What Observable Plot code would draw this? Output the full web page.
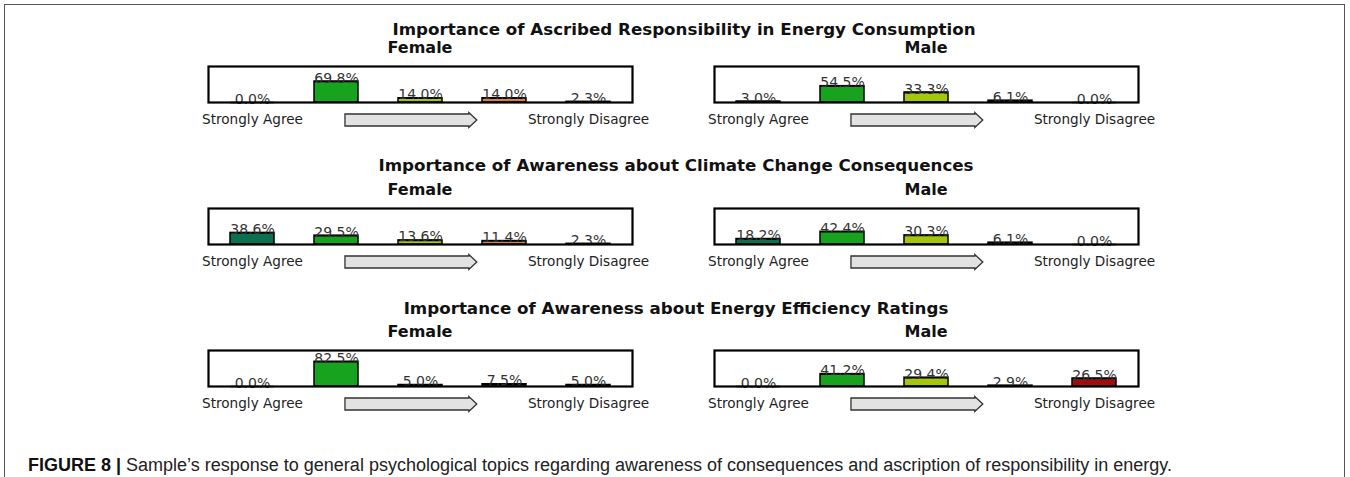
<!DOCTYPE html>
<html>
<head>
<meta charset="utf-8">
<script src="https://cdn.jsdelivr.net/npm/d3@7"></script>
<script src="https://cdn.jsdelivr.net/npm/@observablehq/plot@0.6"></script>
<style>
  html, body { margin: 0; padding: 0; background: #fff; }
  #fig { position: relative; width: 1350px; height: 477px; overflow: hidden; background: #fff; }
  #frame { position: absolute; left: 4px; top: 4px; width: 1339px; height: 500px;
           border-top: 1.5px solid #555; border-left: 1.5px solid #555; border-right: 1.5px solid #555; }
  .ttl { position: absolute; font-family: "DejaVu Sans", sans-serif; font-weight: bold; font-size: 16px;
         color: #111; white-space: nowrap; transform: translateX(-50%); line-height: 1; }
  .ttl.main { font-size: 16.7px; }
  .panel { position: absolute; }
  #caption { position: absolute; left: 28px; top: 455px; font-family: "Liberation Sans", Arial, sans-serif;
             font-size: 18px; color: #222; white-space: nowrap; }
  #caption b { color: #111; }
</style>
</head>
<body>
<div id="fig">
  <div id="frame"></div>
  <div id="caption"><b>FIGURE 8 |</b> Sample’s response to general psychological topics regarding awareness of consequences and ascription of responsibility in energy.</div>
</div>
<script>
// ---- data ----
const likert = [0, 1, 2, 3, 4];
const tickLabels = ["Strongly Agree", "", "", "", "Strongly Disagree"];
const topics = [
  "Importance of Ascribed Responsibility in Energy Consumption",
  "Importance of Awareness about Climate Change Consequences",
  "Importance of Awareness about Energy Efficiency Ratings"
];
const groups = ["Female", "Male"];
const femaleValues = [
  [0.0, 69.8, 14.0, 14.0, 2.3],
  [38.6, 29.5, 13.6, 11.4, 2.3],
  [0.0, 82.5, 5.0, 7.5, 5.0]
];
const maleValues = [
  [3.0, 54.5, 33.3, 6.1, 0.0],
  [18.2, 42.4, 30.3, 6.1, 0.0],
  [0.0, 41.2, 29.4, 2.9, 26.5]
];
const palette = ["#0b7050", "#17a31d", "#a4c70c", "#d6843f", "#a30c0c"];

// ---- layout ----
const fig = document.getElementById("fig");
const boxTops = [66, 208, 350];
const titleTops = [21, 157, 300];
const subTops = [40, 182, 324];
const titleCenters = [684, 676, 676];
const boxLefts = [208, 714];
const boxW = 424, boxH = 36;
const mL = 20, mR = 32, mT = 4, mB = 32;

function addDiv(cls, text, left, top) {
  const d = document.createElement("div");
  d.className = cls;
  d.textContent = text;
  d.style.left = left + "px";
  d.style.top = top + "px";
  fig.appendChild(d);
  return d;
}

topics.forEach((topic, r) => {
  addDiv("ttl main", topic, titleCenters[r], titleTops[r]);
  [femaleValues, maleValues].forEach((vals, g) => {
    addDiv("ttl", groups[g], boxLefts[g] + boxW / 2, subTops[r]);
    const data = likert.map((i) => ({ i, v: vals[r][i] }));
    const svg = Plot.plot({
      width: boxW + mL + mR,
      height: boxH + mT + mB,
      marginLeft: mL, marginRight: mR, marginTop: mT, marginBottom: mB,
      style: { fontFamily: "DejaVu Sans, sans-serif", fontSize: "13.5px", color: "#222", background: "transparent", overflow: "visible" },
      x: { type: "band", domain: likert, paddingInner: 0.48, paddingOuter: 0.24 },
      y: { domain: [0, 120], axis: null },
      color: { type: "ordinal", domain: likert, range: palette },
      marks: [
        Plot.barY(data, { x: "i", y: "v", fill: "i", stroke: "#000", strokeWidth: 1.5 }),
        Plot.tickY(data, { x: "i", y: "v", stroke: "#000", strokeWidth: 1.5 }),
        Plot.text(data, { x: "i", y: "v", text: (d) => d.v.toFixed(1) + "%", lineAnchor: "bottom", dy: 1, fill: "#333", fontSize: 14 }),
        Plot.frame({ stroke: "#000", strokeWidth: 2.2 }),
        Plot.axisX({ tickSize: 0, tickPadding: 12, tickFormat: (i) => tickLabels[i], fontSize: 13.6, fill: "#222", label: null })
      ]
    });
    // decorative block arrow between the two end labels
    const ns = "http://www.w3.org/2000/svg";
    const x0 = mL + 0.323 * boxW, x1 = mL + 0.634 * boxW;
    const yc = mT + boxH + 18;
    const hs = 6, hh = 7.5, hl = 8;
    const p = document.createElementNS(ns, "path");
    p.setAttribute("d", `M${x0},${yc - hs}H${x1 - hl}V${yc - hh}L${x1},${yc}L${x1 - hl},${yc + hh}V${yc + hs}H${x0}Z`);
    p.setAttribute("fill", "#e2e2e2");
    p.setAttribute("stroke", "#333");
    p.setAttribute("stroke-width", "1.3");
    svg.appendChild(p);
    const wrap = document.createElement("div");
    wrap.className = "panel";
    wrap.style.left = (boxLefts[g] - mL) + "px";
    wrap.style.top = (boxTops[r] - mT) + "px";
    wrap.appendChild(svg);
    fig.appendChild(wrap);
  });
});
</script>
</body>
</html>
